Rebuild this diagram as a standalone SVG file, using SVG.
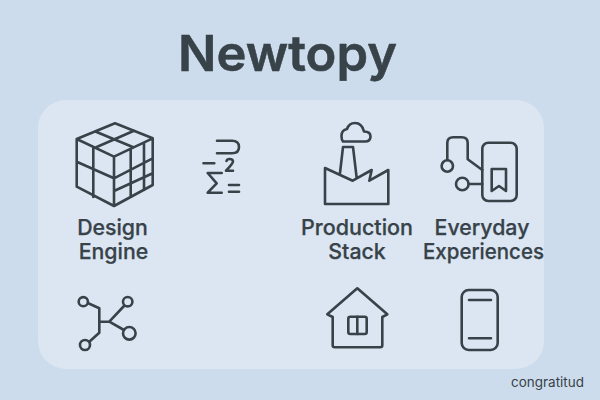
<svg xmlns="http://www.w3.org/2000/svg" width="600" height="400" viewBox="0 0 600 400">
<style>
.i{fill:none;stroke:#374249;stroke-width:2.6;stroke-linecap:round;stroke-linejoin:round}
.t{font-family:Inter,"Liberation Sans",sans-serif;fill:#374249;text-anchor:middle}
.l{font-size:21.300px;font-weight:500;stroke:#374249;stroke-width:.25}
</style>
<rect width="600" height="400" fill="#cddcec"/>
<rect x="38" y="100" width="506" height="269" rx="28" fill="#dce6f3"/>
<text class="t" x="287.500" y="71" font-size="50" font-weight="600" stroke="#374249" stroke-width=".5" textLength="219" lengthAdjust="spacingAndGlyphs">Newtopy</text>
<g id="design-engine">
<path class="i" d="M115 123.300L152.700 138.300L114 156.700L76.700 139ZM76.700 139V186.700L114 206L152.700 185V138.300M114 156.700V206M93.300 147.700V197M76.700 161.700L114 178.300L152.700 158.300M114 191L152.700 173.300M130.700 149V197M144 142.700V190M96 131.700L133.300 147.300M134 130.700L95 147.700"/>
<text class="t l" x="112.500" y="235">Design</text><text class="t l" x="113.500" y="258.500">Engine</text>
</g>
<g id="formula">
<path class="i" d="M217 140.700H232Q239 140.700 239 147Q239 153.300 232 153.300H217M203.500 163.300H214.300M226.500 161Q227 159 229.500 159Q233 159 233 161.500Q233 163.500 226 170.700H233M221.700 173H207.700L216.700 183.300L207.700 192.700H221.700M229 185H239M229 191.700H239"/>
</g>
<g id="production-stack">
<path class="i" d="M325 168L352.700 180.700L371.700 170L369.300 180.700L388.300 170V204H325ZM340 173L343 147H353L356.700 178M343 141.500H365Q370.500 141.500 370.500 136.500Q370.500 131.500 364 131.500Q362 123 355 123Q349 123 347 129Q341.500 130 341.500 136Q341.500 140 343 141.500Z"/>
<text class="t l" x="357" y="235" textLength="112" lengthAdjust="spacingAndGlyphs">Production</text><text class="t l" x="357" y="258.500">Stack</text>
</g>
<g id="everyday-experiences">
<path class="i" d="M447.300 160V143Q447.300 137.300 453.300 137.300H461.700Q467.700 137.300 467.700 143V159.300L482.300 170"/>
<rect class="i" x="482.300" y="142.700" width="34.400" height="58.300" rx="6"/>
<circle class="i" cx="447.300" cy="166" r="5.700"/><circle class="i" cx="462.300" cy="184" r="6.300"/>
<path class="i" d="M468.600 184H482.300M491.700 169H506V191L499 186L491.700 191Z"/>
<text class="t l" x="482" y="235">Everyday</text><text class="t l" x="483.500" y="258.500" textLength="121" lengthAdjust="spacingAndGlyphs">Experiences</text>
</g>
<g id="network">
<circle class="i" cx="83.300" cy="301.700" r="4.600"/><circle class="i" cx="127.700" cy="301.700" r="4.700"/><circle class="i" cx="129.300" cy="333.300" r="6.300"/><circle class="i" cx="85" cy="345" r="5"/>
<path class="i" d="M88.300 303.300L99.300 308.300V332.700L89.300 341.700M99.300 321.700H109.300L124 306M109.300 321.700L124 330"/>
</g>
<g id="home">
<path class="i" d="M357.300 288.300L387.300 314.300L382.300 317V345.300Q382.300 347.300 380.300 347.300H334.700Q332.700 347.300 332.700 345.300V317L327.300 314.300Z"/>
<rect class="i" x="348.300" y="316.700" width="18.400" height="17.300" rx="2"/><path class="i" d="M357.300 316.700V334"/>
</g>
<g id="phone">
<rect class="i" x="461.700" y="290" width="36" height="60" rx="7"/>
<path class="i" d="M469 300H491M469 338.300H491"/>
</g>
<text x="547.500" y="387" font-family="Inter,'Liberation Sans',sans-serif" font-size="13.200" font-weight="400" fill="#374249" text-anchor="middle" textLength="73" lengthAdjust="spacingAndGlyphs">congratitud</text>
</svg>
